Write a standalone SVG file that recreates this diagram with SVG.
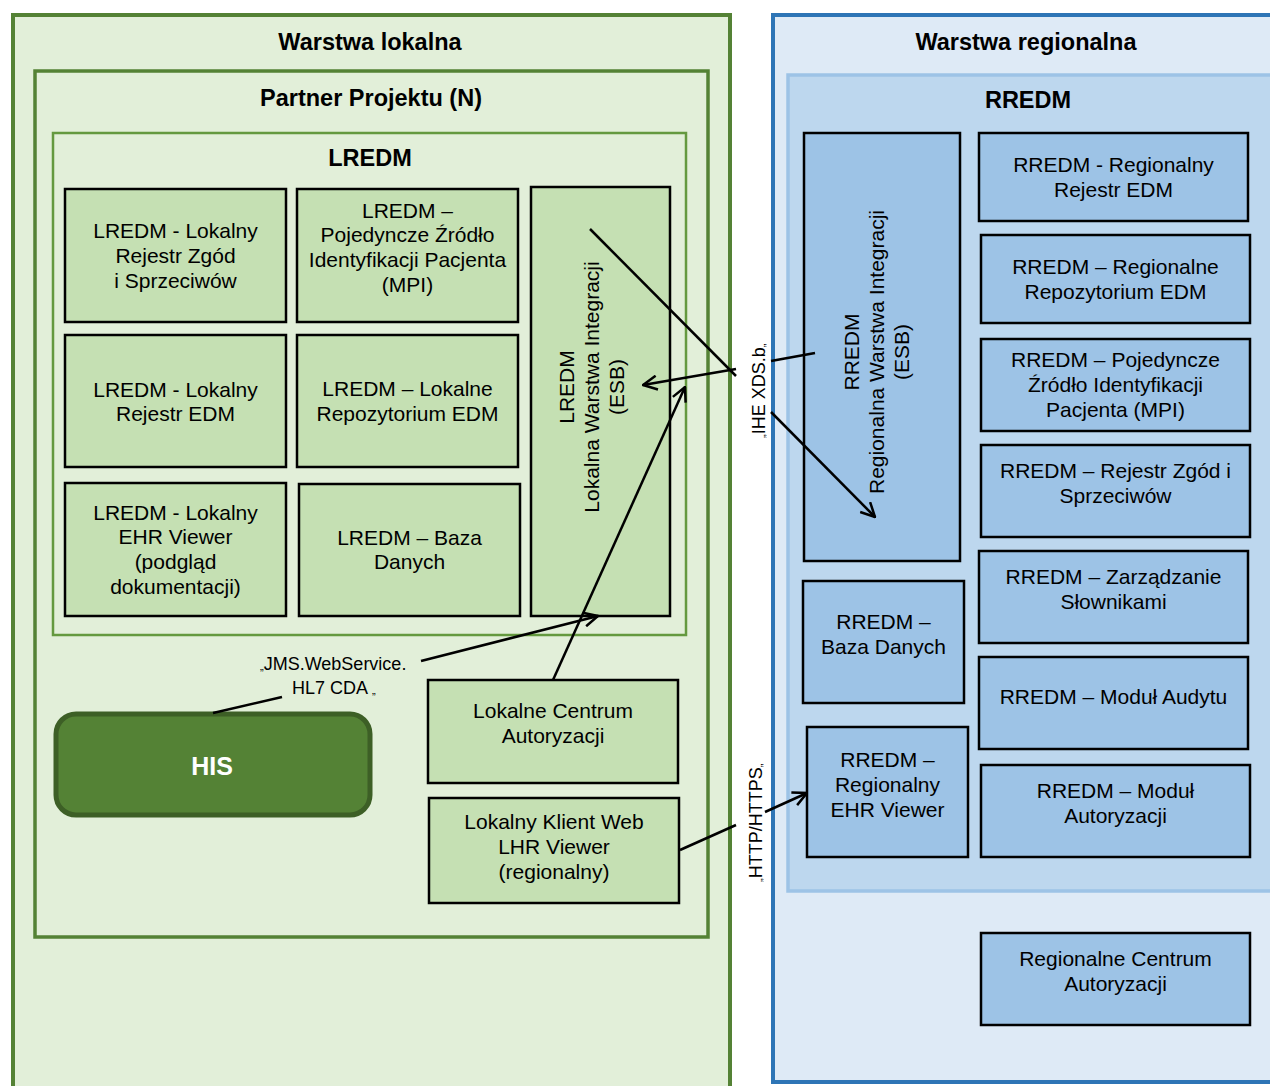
<svg xmlns="http://www.w3.org/2000/svg" width="1270" height="1086" viewBox="0 0 1270 1086">
<defs>
<style>
text{font-family:"Liberation Sans",Arial,sans-serif;fill:#000}
.t{font-size:21px;text-anchor:middle}
.h{font-size:23.5px;font-weight:bold;text-anchor:middle}
.l{font-size:18px}
.q{font-size:11px}
.g{fill:#C5E0B3;stroke:#000;stroke-width:2.5}
.b{fill:#9DC3E6;stroke:#000;stroke-width:2.5}
.c{fill:none;stroke:#000;stroke-width:2.5}
</style>
<marker id="ah" viewBox="0 0 16 16" refX="15" refY="8" markerWidth="16" markerHeight="16" orient="auto" markerUnits="userSpaceOnUse">
<path d="M1,1 L15,8 L1,15" fill="none" stroke="#000" stroke-width="2.5"/>
</marker>
</defs>
<rect width="1270" height="1086" fill="#fff"/>

<g id="warstwa-lokalna">
<rect x="13" y="15" width="717" height="1080" fill="#E2EFD9" stroke="#548235" stroke-width="4"/>
<text class="h" x="370" y="50">Warstwa lokalna</text>
</g>
<g id="partner-projektu">
<rect x="35" y="71" width="673" height="866" fill="#E2EFD9" stroke="#548235" stroke-width="3.5"/>
<text class="h" x="371" y="106">Partner Projektu (N)</text>
</g>
<g id="lredm">
<rect x="53" y="133" width="633" height="502" fill="#E2EFD9" stroke="#64993f" stroke-width="2.5"/>
<text class="h" x="370" y="166">LREDM</text>
</g>
<g id="lredm-zgody">
<rect class="g" x="65" y="189" width="221" height="133"/>
<text class="t" x="175.5" y="238">LREDM - Lokalny</text>
<text class="t" x="175.5" y="263">Rejestr Zgód</text>
<text class="t" x="175.5" y="288">i Sprzeciwów</text>
</g>
<g id="lredm-mpi">
<rect class="g" x="297" y="189" width="221" height="133"/>
<text class="t" x="407.5" y="218">LREDM –</text>
<text class="t" x="407.5" y="242">Pojedyncze Źródło</text>
<text class="t" x="407.5" y="267">Identyfikacji Pacjenta</text>
<text class="t" x="407.5" y="292">(MPI)</text>
</g>
<g id="lredm-esb">
<rect class="g" x="531" y="187" width="139" height="429"/>
<g transform="translate(592,387) rotate(-90)">
<text class="t" x="0" y="-18">LREDM</text>
<text class="t" x="0" y="7">Lokalna Warstwa Integracji</text>
<text class="t" x="0" y="32">(ESB)</text>
</g>
</g>
<g id="lredm-rejestr">
<rect class="g" x="65" y="335" width="221" height="132"/>
<text class="t" x="175.5" y="397">LREDM - Lokalny</text>
<text class="t" x="175.5" y="421">Rejestr EDM</text>
</g>
<g id="lredm-repozytorium">
<rect class="g" x="297" y="335" width="221" height="132"/>
<text class="t" x="407.5" y="396">LREDM – Lokalne</text>
<text class="t" x="407.5" y="421">Repozytorium EDM</text>
</g>
<g id="lredm-viewer">
<rect class="g" x="65" y="483" width="221" height="133"/>
<text class="t" x="175.5" y="520">LREDM - Lokalny</text>
<text class="t" x="175.5" y="544">EHR Viewer</text>
<text class="t" x="175.5" y="569">(podgląd</text>
<text class="t" x="175.5" y="594">dokumentacji)</text>
</g>
<g id="lredm-baza">
<rect class="g" x="299" y="484" width="221" height="132"/>
<text class="t" x="409.5" y="545">LREDM – Baza</text>
<text class="t" x="409.5" y="569">Danych</text>
</g>
<g id="lokalne-centrum">
<rect class="g" x="428" y="680" width="250" height="103"/>
<text class="t" x="553" y="718">Lokalne Centrum</text>
<text class="t" x="553" y="743">Autoryzacji</text>
</g>
<g id="lokalny-klient">
<rect class="g" x="429" y="798" width="250" height="105"/>
<text class="t" x="554" y="829">Lokalny Klient Web</text>
<text class="t" x="554" y="854">LHR Viewer</text>
<text class="t" x="554" y="879">(regionalny)</text>
</g>
<g id="his">
<rect x="56" y="714" width="314" height="101" rx="20" fill="#548235" stroke="#3d5f26" stroke-width="5"/>
<text x="212" y="775" style="font-size:25px;font-weight:bold;fill:#fff;text-anchor:middle">HIS</text>
</g>

<g id="warstwa-regionalna">
<rect x="773" y="15" width="510" height="1067" fill="#DEEAF6" stroke="#2E75B6" stroke-width="4"/>
<text class="h" x="1026" y="50">Warstwa regionalna</text>
</g>
<g id="rredm">
<rect x="788" y="75" width="490" height="816" fill="#BDD7EE" stroke="#9DC3E6" stroke-width="3.5"/>
<text class="h" x="1028" y="108">RREDM</text>
</g>
<g id="rredm-esb">
<rect class="b" x="804" y="133" width="156" height="428"/>
<g transform="translate(877,352) rotate(-90)">
<text class="t" x="0" y="-18">RREDM</text>
<text class="t" x="0" y="7">Regionalna Warstwa Integracji</text>
<text class="t" x="0" y="32">(ESB)</text>
</g>
</g>
<g id="rredm-rejestr">
<rect class="b" x="979" y="133" width="269" height="88"/>
<text class="t" x="1113.5" y="172">RREDM - Regionalny</text>
<text class="t" x="1113.5" y="197">Rejestr EDM</text>
</g>
<g id="rredm-repozytorium">
<rect class="b" x="981" y="235" width="269" height="88"/>
<text class="t" x="1115.5" y="274">RREDM – Regionalne</text>
<text class="t" x="1115.5" y="299">Repozytorium EDM</text>
</g>
<g id="rredm-mpi">
<rect class="b" x="981" y="339" width="269" height="92"/>
<text class="t" x="1115.5" y="367">RREDM – Pojedyncze</text>
<text class="t" x="1115.5" y="392">Źródło Identyfikacji</text>
<text class="t" x="1115.5" y="417">Pacjenta (MPI)</text>
</g>
<g id="rredm-zgody">
<rect class="b" x="981" y="445" width="269" height="92"/>
<text class="t" x="1115.5" y="478">RREDM – Rejestr Zgód i</text>
<text class="t" x="1115.5" y="503">Sprzeciwów</text>
</g>
<g id="rredm-slowniki">
<rect class="b" x="979" y="551" width="269" height="92"/>
<text class="t" x="1113.5" y="584">RREDM – Zarządzanie</text>
<text class="t" x="1113.5" y="609">Słownikami</text>
</g>
<g id="rredm-baza">
<rect class="b" x="803" y="581" width="161" height="122"/>
<text class="t" x="883.5" y="629">RREDM –</text>
<text class="t" x="883.5" y="654">Baza Danych</text>
</g>
<g id="rredm-audyt">
<rect class="b" x="979" y="657" width="269" height="92"/>
<text class="t" x="1113.5" y="704">RREDM – Moduł Audytu</text>
</g>
<g id="rredm-viewer">
<rect class="b" x="807" y="727" width="161" height="130"/>
<text class="t" x="887.5" y="767">RREDM –</text>
<text class="t" x="887.5" y="792">Regionalny</text>
<text class="t" x="887.5" y="817">EHR Viewer</text>
</g>
<g id="rredm-autoryzacja">
<rect class="b" x="981" y="765" width="269" height="92"/>
<text class="t" x="1115.5" y="798">RREDM – Moduł</text>
<text class="t" x="1115.5" y="823">Autoryzacji</text>
</g>
<g id="regionalne-centrum">
<rect class="b" x="981" y="933" width="269" height="92"/>
<text class="t" x="1115.5" y="966">Regionalne Centrum</text>
<text class="t" x="1115.5" y="991">Autoryzacji</text>
</g>

<g id="connectors">
<line class="c" x1="590" y1="229" x2="736" y2="376"/>
<line class="c" x1="736" y1="369" x2="643" y2="385" marker-end="url(#ah)"/>
<line class="c" x1="771" y1="361" x2="815" y2="353"/>
<line class="c" x1="771" y1="412" x2="875" y2="517" marker-end="url(#ah)"/>
<line class="c" x1="213" y1="713" x2="282" y2="697"/>
<line class="c" x1="421" y1="661" x2="598" y2="616" marker-end="url(#ah)"/>
<line class="c" x1="553" y1="680" x2="685" y2="387" marker-end="url(#ah)"/>
<line class="c" x1="680" y1="850" x2="736" y2="825"/>
<line class="c" x1="765" y1="812" x2="807" y2="793" marker-end="url(#ah)"/>
<text class="l" x="260" y="670"><tspan class="q">„</tspan>JMS.WebService.</text>
<text class="l" x="292" y="694">HL7 CDA <tspan class="q">„</tspan></text>
<text class="l" transform="translate(765,438) rotate(-90)"><tspan class="q">„</tspan>IHE XDS.b<tspan class="q">„</tspan></text>
<text class="l" transform="translate(762,882) rotate(-90)"><tspan class="q">„</tspan>HTTP/HTTPS<tspan class="q">„</tspan></text>
</g>
</svg>
